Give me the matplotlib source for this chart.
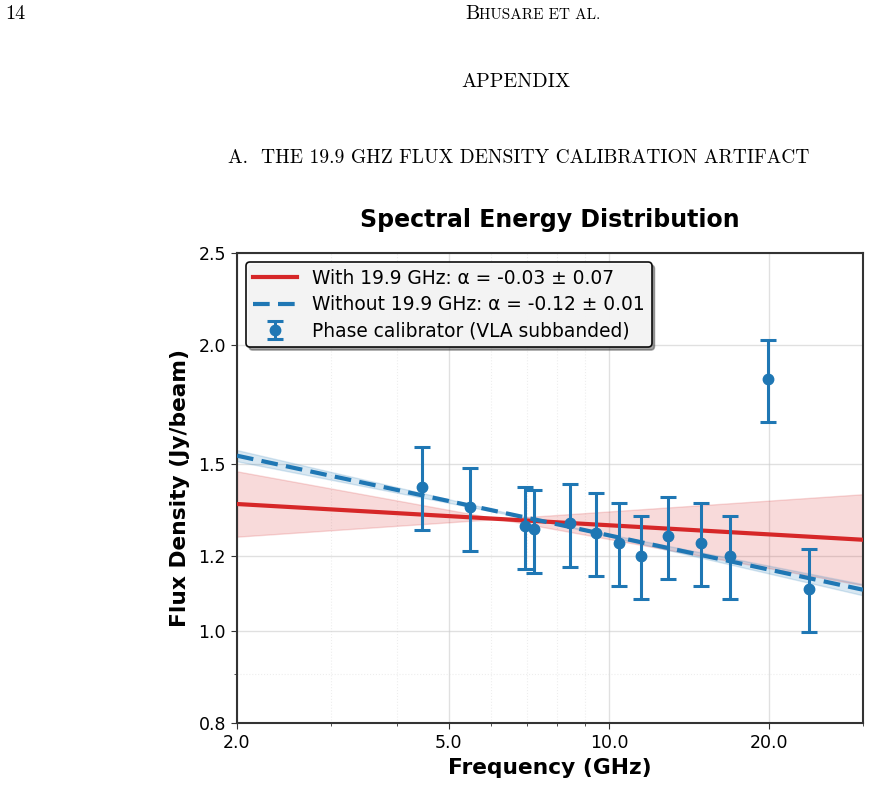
import numpy as np
import matplotlib
matplotlib.use('Agg')
import matplotlib.pyplot as plt
from matplotlib.ticker import FixedLocator, FormatStrFormatter, NullFormatter, LogLocator

# Phase calibrator, VLA subbanded (GHz, Jy/beam)
freq = [4.46, 5.48, 6.96, 7.22, 8.44, 9.46, 10.44, 11.47, 12.92, 14.89, 16.86, 19.86, 23.8]
flux = [1.419, 1.350, 1.290, 1.280, 1.298, 1.269, 1.239, 1.200, 1.259, 1.239, 1.200, 1.842, 1.108]
flux_err = [0.142, 0.135, 0.129, 0.128, 0.130, 0.127, 0.124, 0.120, 0.126, 0.124, 0.120, 0.184, 0.111]

# power-law fits: pivot freq, flux at pivot, alpha, alpha error
fit_with = [6.2, 1.312, -0.032, 0.07]
fit_without = [7.75, 1.300, -0.12, 0.01]

xticks = [2.0, 5.0, 10.0, 20.0]
yticks = [0.8, 1.0, 1.2, 1.5, 2.0, 2.5]

red = '#d62728'
blue = '#1f77b4'

fig = plt.figure(figsize=(8.7, 8.11), dpi=100)

# page text around the figure
serif = 'cmr10'
fig.text(5 / 870, 1 - 14 / 811, '14', family=serif, fontsize=14.5, ha='left', va='center')
fig.text(465 / 870, 1 - 14 / 811, 'B', family=serif, fontsize=14.5, ha='left', va='center')
fig.text(479 / 870, 1 - 15 / 811, 'HUSARE ET AL.', family=serif, fontsize=11, ha='left', va='center')
fig.text(516 / 870, 1 - 82 / 811, 'APPENDIX', family=serif, fontsize=14.5, ha='center', va='center')
fig.text(519 / 870, 1 - 158 / 811, 'A.  THE 19.9 GHZ FLUX DENSITY CALIBRATION ARTIFACT',
         family=serif, fontsize=14, ha='center', va='center')

ax = fig.add_axes([237 / 870, 1 - 723 / 811, (863 - 237) / 870, (723 - 253) / 811])
ax.set_xscale('log')
ax.set_yscale('log')

f = np.geomspace(2.0, 30.0, 200)

def model(p, a):
    return p[1] * (f / p[0]) ** a

# with 19.9 GHz
lo = np.minimum(model(fit_with, fit_with[2] - fit_with[3]), model(fit_with, fit_with[2] + fit_with[3]))
hi = np.maximum(model(fit_with, fit_with[2] - fit_with[3]), model(fit_with, fit_with[2] + fit_with[3]))
ax.fill_between(f, lo, hi, color=red, alpha=0.17, lw=1, zorder=2)
ax.plot(f, model(fit_with, fit_with[2]), color=red, lw=3,
        label='With 19.9 GHz: α = %.2f ± %.2f' % (fit_with[2], fit_with[3]), zorder=3)

# without 19.9 GHz
lo = np.minimum(model(fit_without, fit_without[2] - fit_without[3]), model(fit_without, fit_without[2] + fit_without[3]))
hi = np.maximum(model(fit_without, fit_without[2] - fit_without[3]), model(fit_without, fit_without[2] + fit_without[3]))
ax.fill_between(f, lo, hi, color=blue, alpha=0.17, lw=1, zorder=2)
ax.plot(f, model(fit_without, fit_without[2]), color=blue, lw=3, ls=(0, (4, 2)),
        label='Without 19.9 GHz: α = %.2f ± %.2f' % (fit_without[2], fit_without[3]), zorder=3)

ax.errorbar(freq, flux, yerr=flux_err, fmt='o', color=blue, ms=7.5, elinewidth=2.2,
            capsize=6, capthick=2.2, label='Phase calibrator (VLA subbanded)', zorder=4)

ax.set_xlim(2.0, 30.0)
ax.set_ylim(0.8, 2.5)
ax.xaxis.set_major_locator(FixedLocator(xticks))
ax.xaxis.set_major_formatter(FormatStrFormatter('%.1f'))
ax.xaxis.set_minor_locator(LogLocator(subs='auto'))
ax.xaxis.set_minor_formatter(NullFormatter())
ax.yaxis.set_major_locator(FixedLocator(yticks))
ax.yaxis.set_major_formatter(FormatStrFormatter('%.1f'))
ax.yaxis.set_minor_locator(LogLocator(subs='auto'))
ax.yaxis.set_minor_formatter(NullFormatter())

ax.grid(True, which='major', color='#cccccc', alpha=0.6, lw=1)
ax.grid(True, which='minor', color='#dddddd', alpha=0.5, lw=0.8, ls=':')
ax.tick_params(which='both', labelsize=12.5, color='#333333')
ax.tick_params(which='major', length=4.5)
for s in ax.spines.values():
    s.set_color('#333333')
    s.set_linewidth(1.5)

ax.set_xlabel('Frequency (GHz)', fontsize=15.7, fontweight='bold', labelpad=4)
ax.set_ylabel('Flux Density (Jy/beam)', fontsize=15.7, fontweight='bold', labelpad=6)
ax.set_title('Spectral Energy Distribution', fontsize=17, fontweight='bold', pad=19)

leg = ax.legend(loc='upper left', fontsize=13.4, frameon=True, shadow=True, fancybox=True,
                framealpha=0.95, borderpad=0.35, handlelength=2.4, labelspacing=0.4)
leg.get_frame().set_edgecolor('black')
leg.get_frame().set_facecolor('#f8f8f8')
leg.get_frame().set_linewidth(1.2)

fig.savefig('out.png', dpi=100)
